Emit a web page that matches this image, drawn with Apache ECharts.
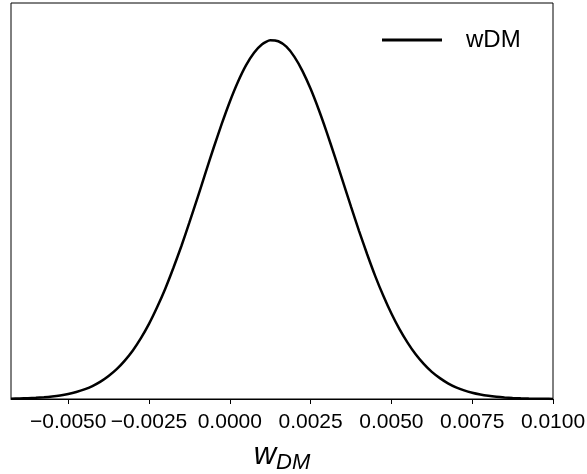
<!DOCTYPE html>
<html>
<head>
<meta charset="utf-8">
<script src="https://cdn.jsdelivr.net/npm/echarts@6/dist/echarts.min.js"></script>
<style>html,body{margin:0;padding:0;background:#fff}#c{width:587px;height:474px}</style>
</head>
<body>
<div id="c"></div>
<script>
// Values (density estimate of wDM)
const xValues = [-0.00677, -0.00650, -0.00625, -0.00600, -0.00575, -0.00550, -0.00525, -0.00500, -0.00475, -0.00450,
  -0.00425, -0.00400, -0.00375, -0.00350, -0.00325, -0.00300, -0.00275, -0.00250, -0.00225, -0.00200,
  -0.00175, -0.00150, -0.00125, -0.00100, -0.00075, -0.00050, -0.00025, 0.00000, 0.00025, 0.00050,
  0.00075, 0.00100, 0.00125, 0.00150, 0.00175, 0.00200, 0.00225, 0.00250, 0.00275, 0.00300,
  0.00325, 0.00350, 0.00375, 0.00400, 0.00425, 0.00450, 0.00475, 0.00500, 0.00525, 0.00550,
  0.00575, 0.00600, 0.00625, 0.00650, 0.00675, 0.00700, 0.00725, 0.00750, 0.00775, 0.00800,
  0.00825, 0.00850, 0.00875, 0.00900, 0.00925, 0.00950, 0.00975, 0.01000];
const yValues = [0.17, 0.27, 0.40, 0.60, 0.88, 1.28, 1.82, 2.57, 3.58, 4.91,
  6.66, 8.91, 11.8, 15.3, 19.7, 24.9, 31.2, 38.5, 47.0, 56.4,
  67.0, 78.3, 90.5, 103.1, 116.0, 128.8, 141.0, 152.4, 162.5, 171.0,
  177.5, 181.9, 183.9, 183.4, 180.6, 175.4, 168.1, 159.0, 148.4, 136.7,
  124.2, 111.4, 98.6, 86.1, 74.2, 63.0, 52.9, 43.8, 35.8, 28.9,
  22.9, 18.0, 13.9, 10.7, 8.04, 5.98, 4.39, 3.18, 2.28, 1.61,
  1.12, 0.77, 0.52, 0.35, 0.23, 0.15, 0.10, 0.06];
const xTicks = [-0.0050, -0.0025, 0.0000, 0.0025, 0.0050, 0.0075, 0.0100];
const seriesName = 'wDM';

const font = 'Liberation Sans';
const chart = echarts.init(document.getElementById('c'), null, {renderer: 'canvas'});
chart.setOption({
  animation: false,
  backgroundColor: '#fff',
  grid: {left: 11, right: 34, top: 3, bottom: 75, outerBoundsMode: 'none', containLabel: false,
    show: true, borderColor: '#000', borderWidth: 1, backgroundColor: 'transparent'},
  legend: {
    show: true, left: 382, top: 28, padding: 0, icon: 'rect', itemWidth: 60, itemHeight: 3,
    textStyle: {fontFamily: font, fontSize: 24, color: '#000', padding: [0, 0, 0, 19]},
    data: [seriesName]
  },
  xAxis: {
    type: 'value', min: -0.00677, max: 0.0100,
    axisLine: {show: true, lineStyle: {color: '#000', width: 1}},
    axisTick: {show: true, inside: false, length: 5, lineStyle: {color: '#000', width: 1}, customValues: xTicks},
    axisLabel: {
      customValues: xTicks, margin: 13, fontFamily: font, fontSize: 21, color: '#000',
      formatter: v => (v < 0 ? '\u2212' : '') + Math.abs(v).toFixed(4)
    },
    splitLine: {show: false},
    name: '{w|w}{s|DM}', nameLocation: 'middle', nameGap: 37,
    nameTextStyle: {
      rich: {
        w: {fontFamily: font, fontStyle: 'italic', fontSize: 31, color: '#000'},
        s: {fontFamily: font, fontStyle: 'italic', fontSize: 22, color: '#000', padding: [16, 0, 0, 0]}
      }
    }
  },
  yAxis: {
    type: 'value', min: 0, max: 203,
    axisLine: {show: false}, axisTick: {show: false}, axisLabel: {show: false}, splitLine: {show: false}
  },
  series: [{
    name: seriesName, type: 'line', symbol: 'none', smooth: 0.2,
    lineStyle: {color: '#000', width: 2.5}, itemStyle: {color: '#000'},
    data: xValues.map((x, i) => [x, yValues[i]])
  }]
});
</script>
</body>
</html>
